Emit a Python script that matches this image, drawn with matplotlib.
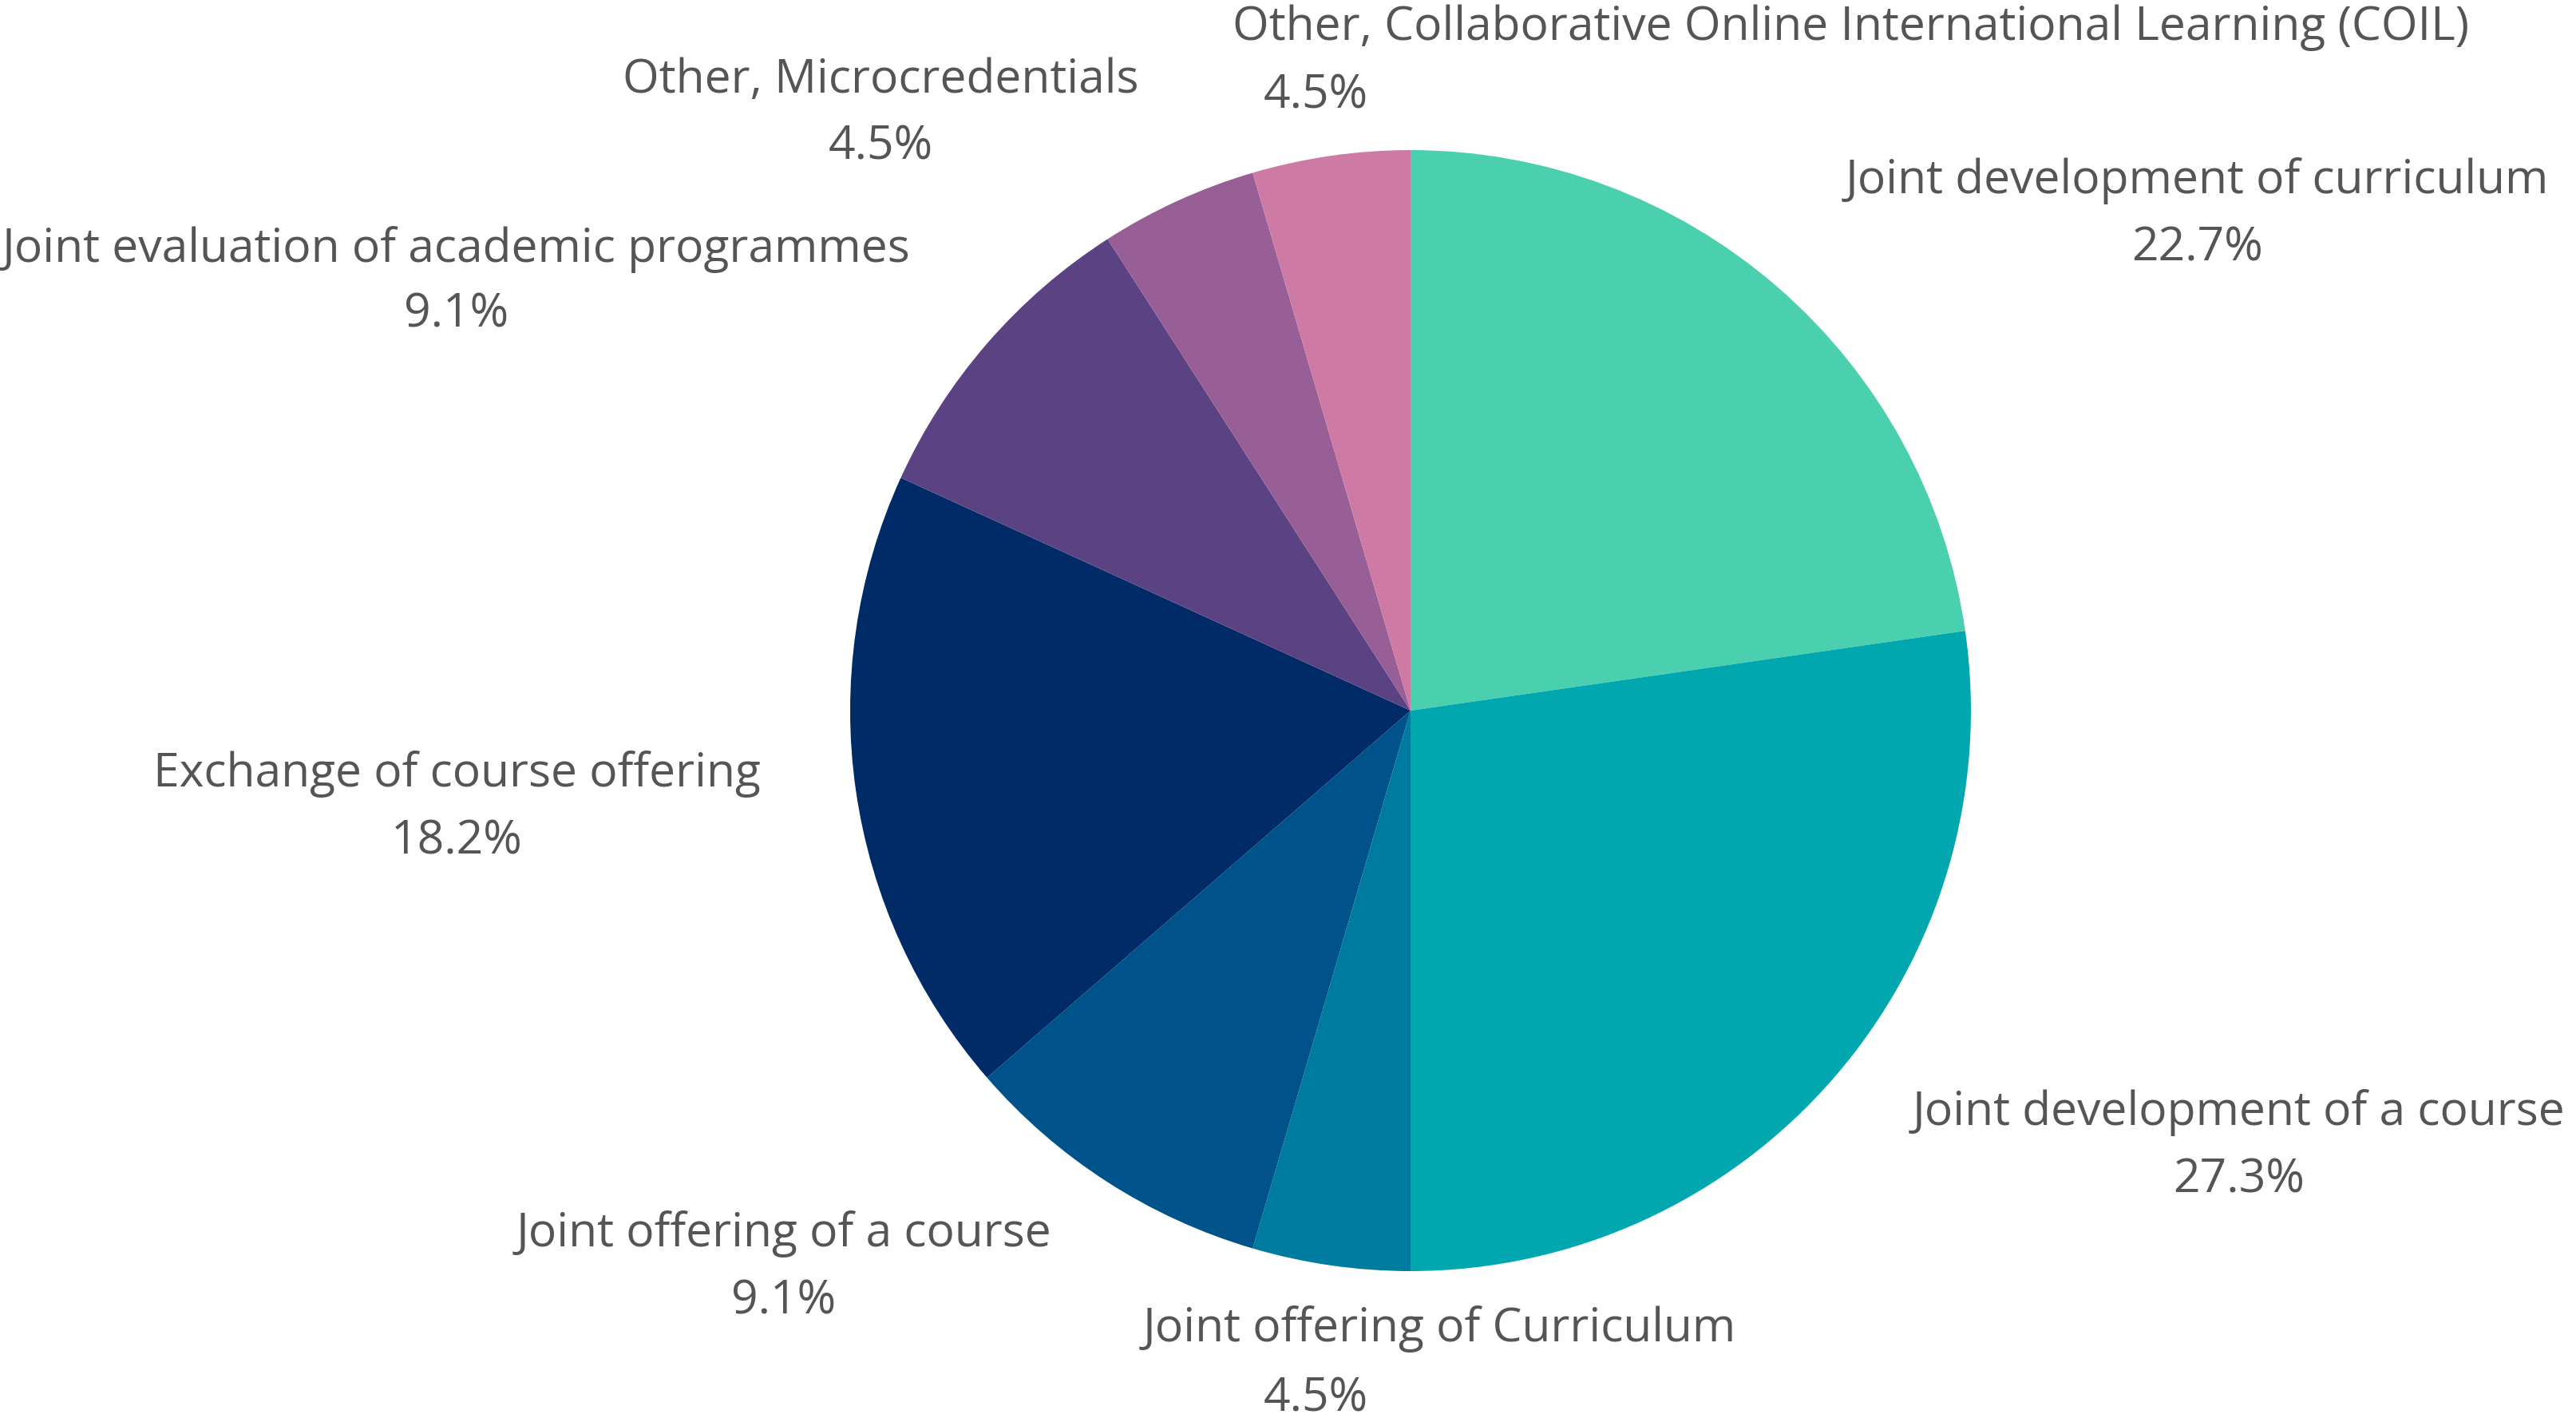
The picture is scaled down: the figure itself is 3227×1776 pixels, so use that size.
import matplotlib
matplotlib.use("Agg")
import matplotlib.pyplot as plt

categories = [
    "Joint development of curriculum",
    "Joint development of a course",
    "Joint offering of Curriculum",
    "Joint offering of a course",
    "Exchange of course offering",
    "Joint evaluation of academic programmes",
    "Other, Microcredentials",
    "Other, Collaborative Online International Learning (COIL)",
]
values = [5, 6, 1, 2, 4, 2, 1, 1]
colors = ["#4ACFAF", "#00A7AF", "#007BA0", "#00538A", "#002B66",
          "#5A4283", "#985E96", "#CD7BA4"]

# label layout in figure pixels: (x line1 center, baseline1, x line2 center, baseline2)
label_pos = [
    (2752, 242, 2752, 326),
    (2805, 1409, 2805, 1493),
    (1803, 1680, 1648, 1767),
    (982, 1561, 982, 1645),
    (572, 985, 572, 1069),
    (572, 328, 572, 410),
    (1103, 116, 1103, 199),
    (2319, 50, 1648, 135),
]

W, H = 3227, 1776
fig = plt.figure(figsize=(W / 100, H / 100), dpi=100)
cx, cy, r = 1767, 890, 702
ax = fig.add_axes([(cx - r) / W, (H - cy - r) / H, 2 * r / W, 2 * r / H])
ax.pie(values, colors=colors, startangle=90, counterclock=False,
       wedgeprops=dict(linewidth=0), radius=1)
ax.set_xlim(-1, 1)
ax.set_ylim(-1, 1)
ax.set_aspect("equal")
ax.axis("off")

total = sum(values)
fs = 42.3
tc = "#555555"
for cat, v, (x1, y1, x2, y2) in zip(categories, values, label_pos):
    fig.text(x1 / W, 1 - y1 / H, cat, ha="center", va="baseline",
             fontsize=fs, color=tc, family="Open Sans")
    fig.text(x2 / W, 1 - y2 / H, f"{v / total * 100:.1f}%", ha="center",
             va="baseline", fontsize=fs, color=tc, family="Open Sans")

fig.savefig("out.png", dpi=100, facecolor="white")
